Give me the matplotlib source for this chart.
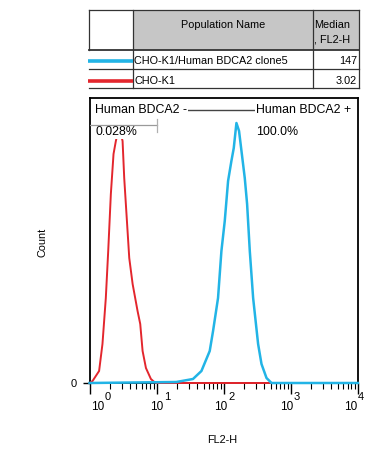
import matplotlib
matplotlib.use("Agg")
import matplotlib.pyplot as plt
import matplotlib.transforms as mtransforms
from matplotlib.patches import Rectangle
from matplotlib.lines import Line2D
import numpy as np

plt.rcParams['font.family'] = ['Liberation Sans', 'DejaVu Sans']

# ---------------- data ----------------
population_names = ["CHO-K1/Human BDCA2 clone5", "CHO-K1"]
medians = ["147", "3.02"]

# histogram of CHO-K1/Human BDCA2 clone5 (FL2-H channel value, count)
blue_fl2 = [1.0, 19.6, 34.8, 46.5, 61.8, 69.3, 82.2, 92.3, 103.5, 116.0, 130.0, 141.0,
            154.5, 169.0, 183.7, 205.6, 222.8, 244.3, 274.0, 325.0, 365.0, 433.5, 515.0, 10000.0]
blue_count = [0, 1, 4, 12, 32, 52, 85, 132, 162, 202, 222, 235,
              260, 252, 232, 205, 179, 132, 85, 39, 19, 5, 0, 0]

# histogram of CHO-K1
red_fl2 = [1.0, 1.11, 1.39, 1.56, 1.75, 1.90, 2.08, 2.28, 2.47, 2.75, 3.11, 3.29,
           3.61, 3.91, 4.39, 5.20, 5.70, 6.18, 6.93, 8.22, 9.23, 10.0, 10000.0]
red_count = [0, 2, 12, 39, 85, 132, 189, 229, 242, 256, 242, 205,
             162, 125, 99, 72, 59, 32, 15, 4, 1, 0, 0]

gate_neg = [1.0, 10.0]
gate_pos = [10.0, 6000.0]
gate_neg_label, gate_neg_pct = "Human BDCA2 -", "0.028%"
gate_pos_label, gate_pos_pct = "Human BDCA2 +", "100.0%"

x_ticks = [1, 10, 100, 1000, 10000]
x_exps = ["0", "1", "2", "3", "4"]
y_max = 285

BLUE = "#22b4e6"
RED = "#e3262d"

# ---------------- figure ----------------
W, H = 380, 451
fig = plt.figure(figsize=(W / 100, H / 100), dpi=100)

def fx(x):
    return x / W

def fy(y):
    return 1 - y / H

ax_l, ax_r, ax_t, ax_b = 89.5, 358, 98, 383
dec_px = (ax_r - ax_l) / 4
ax = fig.add_axes([fx(ax_l), fy(ax_b), fx(ax_r - ax_l), (ax_b - ax_t) / H])
ax.set_xscale("log")
ax.set_xlim(1, 10000)
ax.set_ylim(0, y_max)

ax.plot(red_fl2, red_count, color=RED, lw=1.4, zorder=3, clip_on=False)
ax.plot(blue_fl2, blue_count, color=BLUE, lw=1.8, zorder=4, clip_on=False)

for s in ax.spines.values():
    s.set_linewidth(1.3)
    s.set_color("black")

def px2data(xpx):
    return 10 ** ((xpx - ax_l) / dec_px)

# gates
ax.plot(gate_neg, [258, 258], color="#9a9a9a", lw=0.9, zorder=7)
ax.plot([gate_neg[1], gate_neg[1]], [251, 264], color="#b0b0b0", lw=0.9, zorder=7)
ax.plot(gate_pos, [273, 273], color="#444444", lw=1.0, zorder=2)

bb = dict(facecolor="white", edgecolor="none", pad=1.0)
lfs = 8.9
ax.text(px2data(95), 273, gate_neg_label, fontsize=lfs, va="center", ha="left", bbox=bb, zorder=6)
ax.text(px2data(95), 251, gate_neg_pct, fontsize=lfs, va="center", ha="left", bbox=bb, zorder=6)
ax.text(px2data(256), 273, gate_pos_label, fontsize=lfs, va="center", ha="left", bbox=bb, zorder=6)
ax.text(px2data(256), 251, gate_pos_pct, fontsize=lfs, va="center", ha="left", bbox=bb, zorder=6)

# ticks
ax.set_xticks(x_ticks)
ax.set_xticklabels([])
ax.xaxis.set_minor_locator(matplotlib.ticker.LogLocator(base=10, subs=np.arange(2, 10)))
ax.xaxis.set_minor_formatter(matplotlib.ticker.NullFormatter())
ax.tick_params(axis="x", which="major", direction="out", length=8, width=1.0)
ax.tick_params(axis="x", which="minor", direction="out", length=4.5, width=0.8)
ax.set_yticks([0])
ax.set_yticklabels(["0"], fontsize=8)
ax.tick_params(axis="y", direction="out", length=5, width=1.0, pad=4)

# x tick labels: "10" with superscript exponent
base_right_px = [15, 7, 4, 2, -1]
for t, e, dx in zip(x_ticks, x_exps, base_right_px):
    tr = mtransforms.offset_copy(ax.get_xaxis_transform(), fig=fig, x=dx * 0.72, y=-24 * 0.72, units="points")
    ax.text(t, 0, "10", transform=tr, fontsize=8.5, ha="right", va="center")
    tr2 = mtransforms.offset_copy(ax.get_xaxis_transform(), fig=fig, x=(dx + 0.5) * 0.72, y=-14.5 * 0.72, units="points")
    ax.text(t, 0, e, transform=tr2, fontsize=8, ha="left", va="center")

fig.text(fx(222), fy(440), "FL2-H", fontsize=7.8, ha="center", va="center")
fig.text(fx(42), fy(242), "Count", fontsize=7.8, ha="center", va="center", rotation=90)

# ---------------- table ----------------
tl, tr_, tt, tb = 89, 359, 10, 88
c1, c2 = 133, 313
r1, r2 = 50, 69
edge = "#333333"

fig.patches.append(Rectangle((fx(c1), fy(r1)), fx(tr_ - c1), (r1 - tt) / H,
                             transform=fig.transFigure, facecolor="#c6c6c6", edgecolor="none"))
def hline(y, x0, x1, lw=0.9):
    fig.lines.append(Line2D([fx(x0), fx(x1)], [fy(y), fy(y)], transform=fig.transFigure, color=edge, lw=lw))
def vline(x, y0, y1, lw=0.9):
    fig.lines.append(Line2D([fx(x), fx(x)], [fy(y0), fy(y1)], transform=fig.transFigure, color=edge, lw=lw))

hline(tt, tl, tr_)
hline(r1, tl, tr_, lw=1.3)
hline(r2, tl, tr_)
hline(tb, tl, tr_)
vline(tl, tt, r1)
vline(c1, tt, tb)
vline(c2, tt, tb)
vline(tr_, tt, tb)

fs = 7.8
fig.text(fx((c1 + c2) / 2), fy(25), "Population Name", fontsize=fs, ha="center", va="center")
fig.text(fx(c2 + 1.5), fy(25), "Median", fontsize=fs, ha="left", va="center")
fig.text(fx(c2 + 1.5), fy(39), ", FL2-H", fontsize=fs, ha="left", va="center")

row_y = [60.5, 80.5]
row_colors = [BLUE, RED]
for name, med, yy, col in zip(population_names, medians, row_y, row_colors):
    fig.lines.append(Line2D([fx(tl - 1), fx(c1)], [fy(yy), fy(yy)], transform=fig.transFigure,
                            color=col, lw=2.6, solid_capstyle="butt"))
    fig.text(fx(c1 + 1.5), fy(yy), name, fontsize=fs, ha="left", va="center")
    fig.text(fx(tr_ - 2), fy(yy), med, fontsize=fs, ha="right", va="center")

fig.savefig("out.png", dpi=100, facecolor="white")
